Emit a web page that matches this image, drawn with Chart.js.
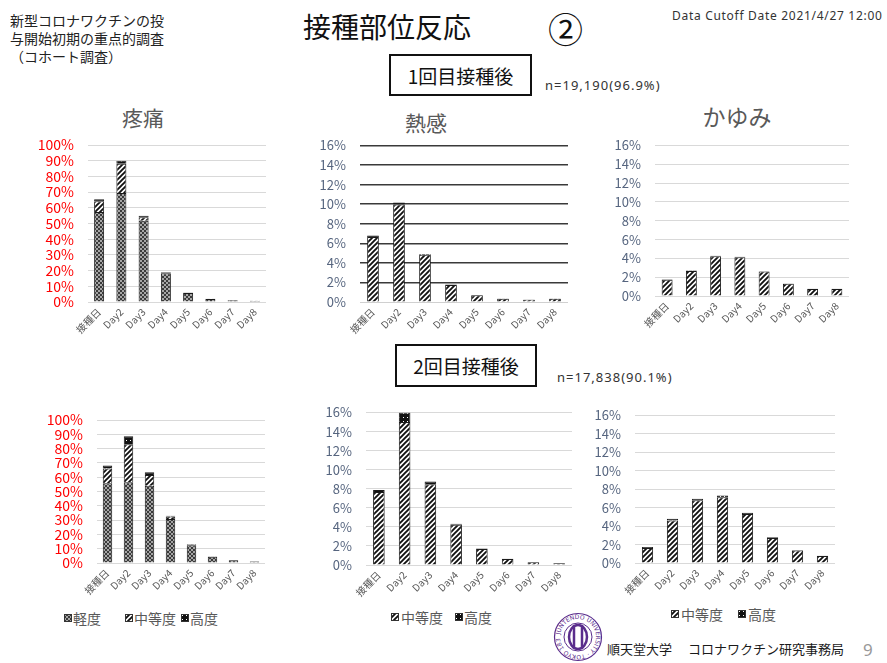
<!DOCTYPE html>
<html><head><meta charset="utf-8">
<script src="https://cdn.jsdelivr.net/npm/chart.js@4.4.1/dist/chart.umd.min.js"></script>
<style>
html,body{margin:0;padding:0;background:#fff;}
body{width:887px;height:663px;position:relative;overflow:hidden;font-family:"Noto Sans CJK JP","Noto Sans",sans-serif;}
.abs{position:absolute;white-space:nowrap;line-height:1;}
.cv{position:absolute;}
.ctitle{position:absolute;white-space:nowrap;line-height:1;color:#595959;transform:translate(-50%,-50%);}
.box{position:absolute;box-sizing:border-box;border:2px solid #111;display:flex;align-items:center;justify-content:center;font-size:19px;color:#111;}
.leg{position:absolute;line-height:1;font-size:14px;color:#595959;white-space:nowrap;transform:translateY(-50%);}
.sw{position:absolute;}
</style></head><body>

<div class="abs" style="left:10px;top:11px;font-size:14px;line-height:18px;color:#222;">新型コロナワクチンの投<br>与開始初期の重点的調査<br>（コホート調査）</div>
<div class="abs" style="left:303px;top:12px;font-size:28px;color:#111;">接種部位反応</div>
<div class="abs" style="left:548px;top:10px;font-size:35px;color:#111;">②</div>
<div class="abs" style="left:672px;top:10px;font-size:12px;letter-spacing:0.7px;color:#333;font-family:'Noto Sans',sans-serif;">Data Cutoff Date 2021/4/27 12:00</div>

<div class="box" style="left:389px;top:54px;width:143px;height:42px;">1回目接種後</div>
<div class="abs" style="left:545px;top:79px;font-size:13px;letter-spacing:1px;color:#333;font-family:'Noto Sans',sans-serif;">n=19,190(96.9%)</div>
<div class="box" style="left:395px;top:344px;width:142px;height:43px;">2回目接種後</div>
<div class="abs" style="left:557px;top:371px;font-size:13px;letter-spacing:1px;color:#333;font-family:'Noto Sans',sans-serif;">n=17,838(90.1%)</div>

<div class="ctitle" style="left:143px;top:117px;font-size:21px;">疼痛</div>
<div class="ctitle" style="left:426px;top:122px;font-size:21px;">熱感</div>
<div class="ctitle" style="left:737px;top:116px;font-size:23px;">かゆみ</div>

<canvas class="sw" id="sw1" width="8" height="8" style="left:64px;top:614px;"></canvas>
<div class="leg" style="left:73px;top:618px;">軽度</div>
<canvas class="sw" id="sw2" width="8" height="8" style="left:125px;top:614px;"></canvas>
<div class="leg" style="left:134px;top:618px;">中等度</div>
<canvas class="sw" id="sw3" width="8" height="8" style="left:181px;top:614px;"></canvas>
<div class="leg" style="left:190px;top:618px;">高度</div>

<canvas class="sw" id="sw4" width="8" height="8" style="left:391px;top:613px;"></canvas>
<div class="leg" style="left:401px;top:617px;">中等度</div>
<canvas class="sw" id="sw5" width="8" height="8" style="left:455px;top:613px;"></canvas>
<div class="leg" style="left:464px;top:617px;">高度</div>

<canvas class="sw" id="sw6" width="8" height="8" style="left:671px;top:610px;"></canvas>
<div class="leg" style="left:681px;top:614px;">中等度</div>
<canvas class="sw" id="sw7" width="8" height="8" style="left:738px;top:610px;"></canvas>
<div class="leg" style="left:748px;top:614px;">高度</div>

<svg class="abs" style="left:553px;top:612px;" width="50" height="50" viewBox="0 0 50 50">
  <defs><path id="arc" d="M7,25 A18,18 0 1,1 43,25 A18,18 0 1,1 7,25"/></defs>
  <circle cx="25" cy="25" r="23.5" fill="none" stroke="#5a2d8c" stroke-width="1.2"/>
  <circle cx="25" cy="25" r="14" fill="none" stroke="#5a2d8c" stroke-width="1"/>
  <text font-size="6" fill="#5a2d8c" font-family="DejaVu Sans"><textPath href="#arc" startOffset="2%">JUNTENDO UNIVERSITY · TOKYO 1838 ·</textPath></text>
  <ellipse cx="25" cy="25" rx="9" ry="12" fill="none" stroke="#5a2d8c" stroke-width="2.5"/>
  <line x1="21" y1="13" x2="21" y2="37" stroke="#5a2d8c" stroke-width="2.5"/>
  <line x1="29" y1="13" x2="29" y2="37" stroke="#5a2d8c" stroke-width="2.5"/>
</svg>
<div class="abs" style="left:607px;top:642px;font-size:13px;color:#1a1a1a;">順天堂大学</div>
<div class="abs" style="left:688px;top:642px;font-size:13px;color:#1a1a1a;">コロナワクチン研究事務局</div>
<div class="abs" style="left:863px;top:641px;font-size:17px;color:#999;font-family:'Noto Sans',sans-serif;">9</div>

<script>
const categories = ['接種日','Day2','Day3','Day4','Day5','Day6','Day7','Day8'];
const seriesNames = ['軽度','中等度','高度'];

// 1回目 疼痛
const pain1Mild     = [57.3, 69.4, 51.7, 18.3, 5.7, 1.95, 1.15, 0.7];
const pain1Moderate = [6.8, 18.6, 2.3, 0.5, 0.2, 0.1, 0.1, 0.05];
const pain1Severe   = [1.3, 2.0, 0.9, 0.3, 0.1, 0.05, 0.05, 0.05];
// 1回目 熱感
const heat1Moderate = [6.65, 9.96, 4.82, 1.73, 0.68, 0.34, 0.24, 0.34];
const heat1Severe   = [0.15, 0.2, 0.1, 0.05, 0.03, 0.02, 0.02, 0.02];
// 1回目 かゆみ
const itch1Moderate = [1.72, 2.66, 4.22, 4.13, 2.6, 1.31, 0.75, 0.75];
const itch1Severe   = [0.05, 0.05, 0.06, 0.05, 0.04, 0.03, 0.02, 0.02];
// 2回目 疼痛
const pain2Mild     = [55.7, 56.4, 54.0, 30.7, 12.5, 4.3, 1.9, 1.05];
const pain2Moderate = [10.3, 26.7, 7.6, 1.8, 0.5, 0.3, 0.15, 0.1];
const pain2Severe   = [2.2, 5.5, 1.8, 0.6, 0.2, 0.1, 0.05, 0.05];
// 2回目 熱感
const heat2Moderate = [7.67, 15.0, 8.47, 4.22, 1.68, 0.63, 0.28, 0.18];
const heat2Severe   = [0.2, 1.0, 0.3, 0.1, 0.05, 0.03, 0.02, 0.02];
// 2回目 かゆみ
const itch2Moderate = [1.62, 4.62, 6.8, 7.14, 5.32, 2.72, 1.35, 0.75];
const itch2Severe   = [0.12, 0.17, 0.17, 0.18, 0.12, 0.08, 0.05, 0.04];

const painAxisMax = 100, painAxisStep = 10;
const otherAxisMax = 16, otherAxisStep = 2;

function makePattern(kind){
  const t = document.createElement('canvas');
  if(kind==='mild'){
    t.width=4; t.height=4; const g=t.getContext('2d');
    g.fillStyle='#3a3a3a'; g.fillRect(0,0,4,4);
    g.fillStyle='#a6a6a6'; g.fillRect(0,0,2,2); g.fillRect(2,2,2,2);
  } else if(kind==='mod'){
    t.width=5; t.height=5; const g=t.getContext('2d');
    g.fillStyle='#fff'; g.fillRect(0,0,5,5);
    g.strokeStyle='#111'; g.lineWidth=1.9; g.beginPath();
    g.moveTo(0,5); g.lineTo(5,0);
    g.moveTo(-1,1); g.lineTo(1,-1);
    g.moveTo(4,6); g.lineTo(6,4);
    g.stroke();
  } else {
    t.width=4; t.height=4; const g=t.getContext('2d');
    g.fillStyle='#111'; g.fillRect(0,0,4,4);
    g.fillStyle='#fff'; g.fillRect(1,1,1,1);
  }
  return t.getContext('2d').createPattern(t,'repeat');
}
const P = {mild:makePattern('mild'), mod:makePattern('mod'), sev:makePattern('sev')};

function swatch(id, pat){
  const g=document.getElementById(id).getContext('2d');
  g.fillStyle=pat; g.fillRect(0,0,8,8);
  g.strokeStyle='#333'; g.lineWidth=1; g.strokeRect(0.5,0.5,7,7);
}
swatch('sw1',P.mild); swatch('sw2',P.mod); swatch('sw3',P.sev);
swatch('sw4',P.mod); swatch('sw5',P.sev); swatch('sw6',P.mod); swatch('sw7',P.sev);

function ds(label, data, pat){
  return {label, data, backgroundColor:pat, borderColor:'#1a1a1a', borderWidth:1,
          barPercentage:0.45, categoryPercentage:1};
}

const FONT = '"Noto Sans CJK JP","Noto Sans",sans-serif';

function makeChart(geo, datasets, yMax, yStep, yColor, yFont, darkGrid){
  const yW=60, padT=12, padR=10, xH=45;
  const left=Math.round(geo.l - yW), top=Math.round(geo.t - padT);
  const w=Math.round(geo.r + padR - left), h=Math.round(geo.b + xH - top);
  const c=document.createElement('canvas');
  c.className='cv'; c.width=w; c.height=h;
  c.style.left=left+'px'; c.style.top=top+'px'; c.style.width=w+'px'; c.style.height=h+'px';
  document.body.appendChild(c);
  new Chart(c, {
    type:'bar',
    data:{labels:categories, datasets},
    options:{
      responsive:false, animation:false,
      layout:{padding:{left:0, top:padT, right:padR, bottom:0}},
      plugins:{legend:{display:false}, tooltip:{enabled:false}},
      scales:{
        x:{stacked:true, grid:{display:false, drawTicks:false}, border:{display:false},
           ticks:{minRotation:45, maxRotation:45, autoSkip:false, padding:4, color:'#595959',
                  font:{size:10, family:FONT}},
           afterFit(s){ s.height = xH; }},
        y:{stacked:true, min:0, max:yMax, border:{display:false},
           grid:{drawTicks:false,
                 color:(ctx)=> darkGrid ? (ctx.tick && ctx.tick.value===0 ? '#d0d0d0' : '#3a3a3a') : '#d9d9d9',
                 lineWidth:(ctx)=> darkGrid && ctx.tick && ctx.tick.value!==0 ? 1.5 : 1},
           ticks:{stepSize:yStep, autoSkip:false, maxTicksLimit:50, padding:14, color:yColor,
                  font:{size:yFont, family:FONT, lineHeight:1},
                  callback:(v)=> v + '%'},
           afterFit(s){ s.width = yW; }}
      }
    }
  });
}

const red='#ff0000', gray='#56657f';
makeChart({l:88.4, r:266, t:136, b:301.7},
  [ds(seriesNames[0],pain1Mild,P.mild), ds(seriesNames[1],pain1Moderate,P.mod), ds(seriesNames[2],pain1Severe,P.sev)],
  painAxisMax, painAxisStep, red, 14, false);
makeChart({l:359.5, r:567.5, t:136.7, b:301.7},
  [ds(seriesNames[1],heat1Moderate,P.mod), ds(seriesNames[2],heat1Severe,P.sev)],
  otherAxisMax, otherAxisStep, gray, 13, true);
makeChart({l:655.4, r:849, t:136.7, b:296},
  [ds(seriesNames[1],itch1Moderate,P.mod), ds(seriesNames[2],itch1Severe,P.sev)],
  otherAxisMax, otherAxisStep, gray, 13, false);
makeChart({l:96.5, r:264.5, t:411, b:563},
  [ds(seriesNames[0],pain2Mild,P.mild), ds(seriesNames[1],pain2Moderate,P.mod), ds(seriesNames[2],pain2Severe,P.sev)],
  painAxisMax, painAxisStep, red, 14, false);
makeChart({l:365.6, r:572, t:404.3, b:565},
  [ds(seriesNames[1],heat2Moderate,P.mod), ds(seriesNames[2],heat2Severe,P.sev)],
  otherAxisMax, otherAxisStep, gray, 13, false);
makeChart({l:635, r:834.5, t:406.7, b:562.7},
  [ds(seriesNames[1],itch2Moderate,P.mod), ds(seriesNames[2],itch2Severe,P.sev)],
  otherAxisMax, otherAxisStep, gray, 13, false);
</script>
</body></html>
